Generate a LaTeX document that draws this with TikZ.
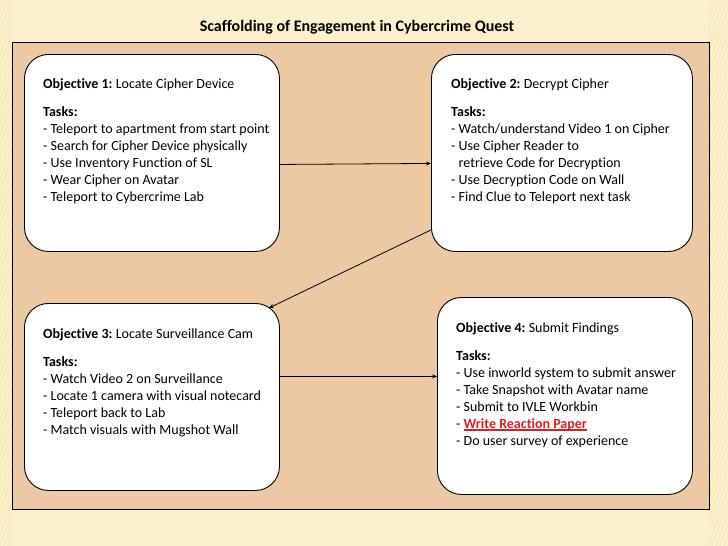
\documentclass[tikz,border=0pt]{standalone}
\usepackage{fontspec}
\setmainfont[Ligatures=NoCommon]{Carlito}
\usetikzlibrary{arrows.meta}
\frenchspacing
\definecolor{cream}{RGB}{252,240,204}
\definecolor{stripe}{RGB}{236,214,150}
\definecolor{tan}{RGB}{236,200,163}
\definecolor{redtxt}{RGB}{222,30,32}
\newcommand{\myul}[1]{{\setbox0\hbox{#1}\rlap{\raisebox{-2.2pt}{\rule{\wd0}{1.3pt}}}\box0}}
\tikzset{
  objbox/.style={draw=black, line width=0.9pt, fill=white, rounded corners=24pt, anchor=north west, inner sep=0pt},
  objtext/.style={anchor=north west, inner sep=0pt, align=left, font=\fontsize{14}{17}\selectfont\frenchspacing},
  arr/.style={line width=0.8pt, -{Stealth[length=5pt,width=4pt]}},
  titletext/.style={font=\fontsize{16}{19}\selectfont\bfseries}
}
\begin{document}
\begin{tikzpicture}[x=1pt,y=-1pt]
\useasboundingbox (0,0) rectangle (728,546);
% background
\fill[cream] (0,0) rectangle (728,546);
\begin{scope}
  \clip (0,0) rectangle (12,546) (709,0) rectangle (728,546);
  \foreach \i in {-600,-596,...,800} {
    \draw[stripe, line width=0.6pt, opacity=0.6] (\i,546) -- (\i+546*0.35,0);
  }
\end{scope}
\draw[black, line width=0.9pt, fill=tan] (12,42) rectangle (709,509);
% title
\node[titletext] (title) at (357,27) {Scaffolding of Engagement in Cybercrime Quest};
% boxes
\node[objbox, minimum width=255pt, minimum height=197pt] (o1) at (24,54) {};
\node[objbox, minimum width=261pt, minimum height=197pt] (o2) at (431,54) {};
\node[objbox, minimum width=255pt, minimum height=187pt] (o3) at (24,303) {};
\node[objbox, minimum width=255pt, minimum height=197pt] (o4) at (437,297) {};
% texts
\node[objtext] (t1) at ([xshift=19pt,yshift=-24.5pt]o1.north west) {%
\textbf{Objective 1:} Locate Cipher Device\\[11pt]
\textbf{Tasks:}\\
- Teleport to apartment from start point\\
- Search for Cipher Device physically\\
- Use Inventory Function of SL\\
- Wear Cipher on Avatar\\
- Teleport to Cybercrime Lab};
\node[objtext] (t2) at ([xshift=20pt,yshift=-24.5pt]o2.north west) {%
\textbf{Objective 2:} Decrypt Cipher\\[11pt]
\textbf{Tasks:}\\
- Watch/understand Video 1 on Cipher\\
- Use Cipher Reader to\\
\hspace*{7.5pt}retrieve Code for Decryption\\
- Use Decryption Code on Wall\\
- Find Clue to Teleport next task};
\node[objtext] (t3) at ([xshift=19pt,yshift=-25.5pt]o3.north west) {%
\textbf{Objective 3:} Locate Surveillance Cam\\[11pt]
\textbf{Tasks:}\\
- Watch Video 2 on Surveillance\\
- Locate 1 camera with visual notecard\\
- Teleport back to Lab\\
- Match visuals with Mugshot Wall};
\node[objtext] (t4) at ([xshift=19pt,yshift=-25.5pt]o4.north west) {%
\textbf{Objective 4:} Submit Findings\\[11pt]
\textbf{Tasks:}\\
- Use inworld system to submit answer\\
- Take Snapshot with Avatar name\\
- Submit to IVLE Workbin\\
- {\color{redtxt}\bfseries\myul{Write Reaction Paper}}\\
- Do user survey of experience};
% connectors
\draw[arr] ([yshift=-11.5pt]o1.east) -- ([yshift=-10.5pt]o2.west);
\draw[arr] ([yshift=22pt]o2.south west) -- ([xshift=-11pt,yshift=-5pt]o3.north east);
\draw[arr] ([yshift=20.5pt]o3.east) -- ([yshift=19.5pt]o4.west);
\end{tikzpicture}
\end{document}
